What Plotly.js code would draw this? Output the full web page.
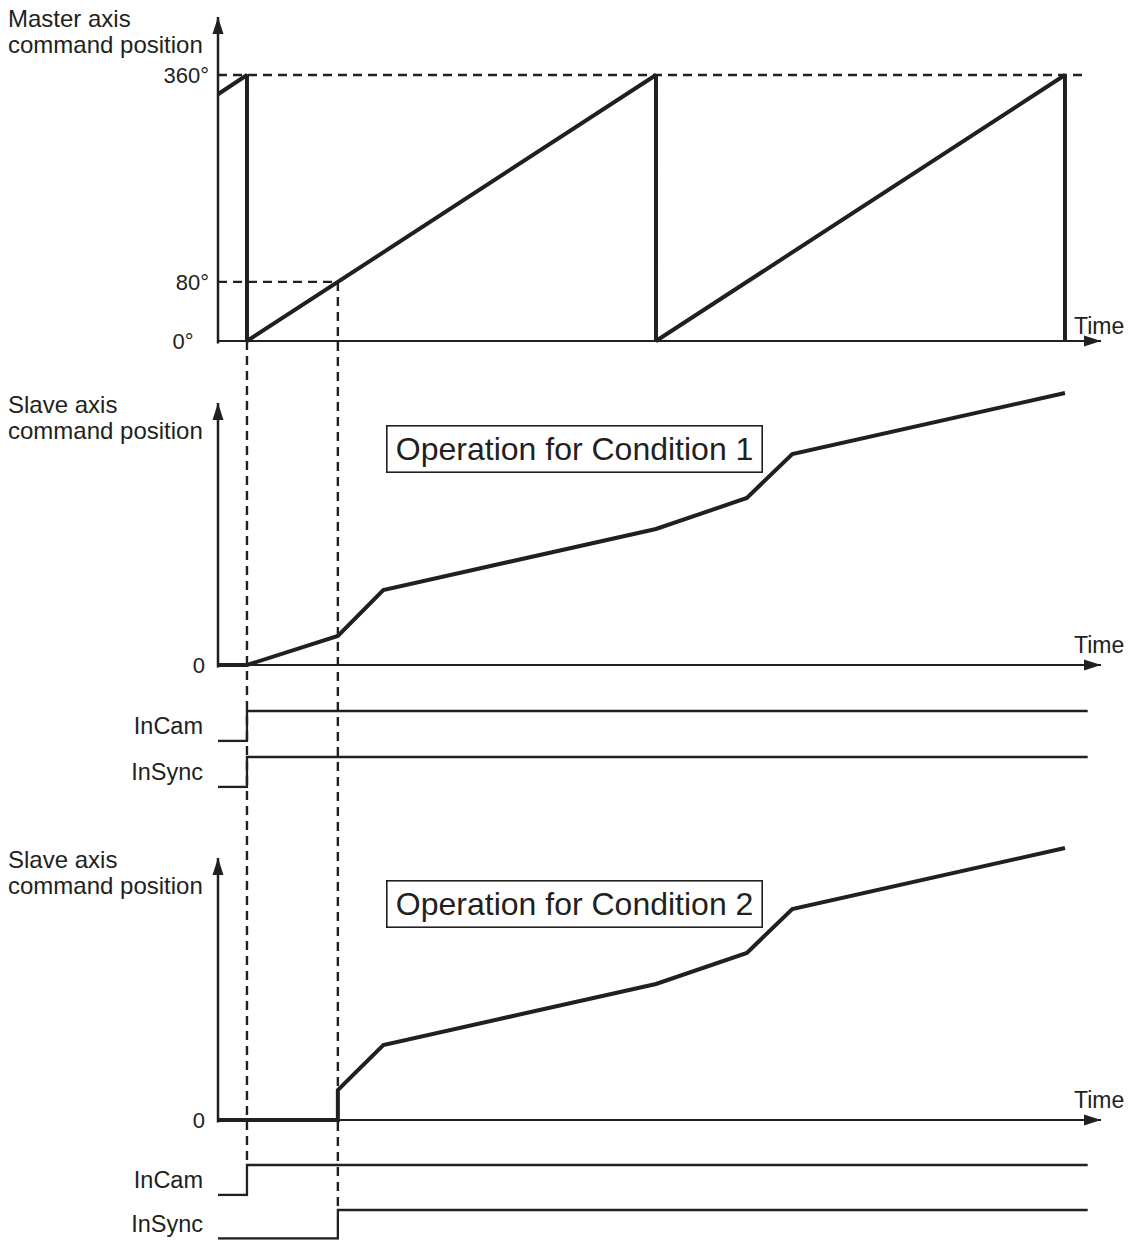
<!DOCTYPE html>
<html>
<head>
<meta charset="utf-8">
<script src="https://cdn.plot.ly/plotly-3.0.1.min.js"></script>
<style>html,body{margin:0;padding:0;background:#fff;}#chart{width:1135px;height:1240px;}</style>
</head>
<body>
<div id="chart"></div>
<script>
// ---------------- data ----------------
const masterTime = [-25.5, 0, 0, 360, 360, 720, 720];
const masterDeg  = [334, 360, 0, 360, 0, 360, 0];
const masterTickVals = [0, 80, 360];
const masterTickText = ['0°\u2002\u2009', '80°', '360°'];
const syncDeg = 80;          // master angle where sync occurs
const fullTurn = 360;
const startTime = 0;         // cam start
const syncTime = 80;         // time when master reaches syncDeg
const endTime = 740;         // end of signal / reference lines

const slave1Time = [-25.5, 0, 80, 120, 360, 440, 480, 720];
const slave1Pos  = [0, 0, 29, 75, 136, 167, 211, 272];
const slave2Time = [-25.5, 0, 80, 80, 120, 360, 440, 480, 720];
const slave2Pos  = [0, 0, 0, 30, 75, 136, 167, 211, 272];

const sigTime1 = [-25.5, 0, 0, 740];
const inCam1   = [0, 0, 1, 1];
const inSync1  = [0, 0, 1, 1];
const inCam2   = [0, 0, 1, 1];
const sigTime2 = [-25.5, 80, 80, 740];
const inSync2  = [0, 0, 1, 1];

const conditionLabels = ['Operation for Condition 1', 'Operation for Condition 2'];

// ---------------- layout helpers ----------------
const W = 1135, H = 1240;
const C = '#231f20';
const FONT = 'Liberation Sans, Arial, Helvetica, sans-serif';
const px = v => v / W;
const py = v => 1 - v / H;
const xOrigin = -25.5;

// x axis: px 218 -> 1101
const xLeftPx = 218, xRightPx = 1101, pxPerUnit = 409 / 360;
const xRange = [xOrigin, xOrigin + (xRightPx - xLeftPx) / pxPerUnit];

function posAxis(zeroPx, tipPx, tipVal, domTopPx, padPx) {
  const unitPx = (zeroPx - tipPx) / tipVal;
  const pad = padPx / unitPx;
  return {
    domain: [py(zeroPx + padPx), py(domTopPx)],
    range: [-pad, (zeroPx - domTopPx) / unitPx],
    _tip: tipVal,
    showline: false,
    zeroline: true, zerolinewidth: 2.5, zerolinecolor: C,
    showgrid: false, ticks: '', anchor: 'x',
    tickfont: {family: FONT, size: 22, color: C},
    ticklabelstandoff: 8,
    fixedrange: true
  };
}
function sigAxis(lowPx, highPx, label) {
  const unit = lowPx - highPx;
  return {
    domain: [py(lowPx + 0.04 * unit), py(highPx - 0.1 * unit)],
    range: [-0.04, 1.1],
    showline: false, zeroline: false, showgrid: false, ticks: '',
    tickvals: [0.5], ticktext: [label], anchor: 'x',
    tickfont: {family: FONT, size: 23.5, color: C},
    ticklabelstandoff: 14,
    fixedrange: true
  };
}

const yMaster = posAxis(341, 17, (341 - 17) * 360 / 266, 17, 2.5);
yMaster.tickvals = masterTickVals; yMaster.ticktext = masterTickText;
const ySlave1 = posAxis(665, 403, 262, 385, 2.5);
ySlave1.tickvals = [0]; ySlave1.ticktext = ['0']; ySlave1.ticklabelstandoff = 12;
const ySlave2 = posAxis(1120, 858, 262, 840, 2.5);
ySlave2.tickvals = [0]; ySlave2.ticktext = ['0']; ySlave2.ticklabelstandoff = 12;

const yInCam1 = sigAxis(741, 711, 'InCam');
const yInSync1 = sigAxis(787, 757, 'InSync');
const yInCam2 = sigAxis(1195, 1165, 'InCam');
const yInSync2 = sigAxis(1238.5, 1210, 'InSync');

function frac(ax, v) { return (v - ax.range[0]) / (ax.range[1] - ax.range[0]); }
function toPaper(ax, v) {
  return ax.domain[0] + frac(ax, v) * (ax.domain[1] - ax.domain[0]);
}

const xBase = {range: xRange, showline: false, zeroline: false, showgrid: false,
  showticklabels: false, ticks: '', fixedrange: true, domain: [px(xLeftPx), px(xRightPx)]};

// ---------------- traces ----------------
const thick = {color: C, width: 4};
const thin = {color: C, width: 2.3};
const dash = {color: C, width: 2.4, dash: '9px,6px'};
const traces = [
  {x: [xOrigin, endTime], y: [fullTurn, fullTurn], xaxis: 'x', yaxis: 'y', mode: 'lines', line: dash},
  {x: [xOrigin, syncTime], y: [syncDeg, syncDeg], xaxis: 'x', yaxis: 'y', mode: 'lines', line: dash},
  {x: masterTime, y: masterDeg, xaxis: 'x', yaxis: 'y', mode: 'lines', line: thick},
  {x: slave1Time, y: slave1Pos, xaxis: 'x2', yaxis: 'y2', mode: 'lines', line: thick},
  {x: slave2Time, y: slave2Pos, xaxis: 'x3', yaxis: 'y3', mode: 'lines', line: thick},
  {x: sigTime1, y: inCam1, xaxis: 'x', yaxis: 'y4', mode: 'lines', line: thin},
  {x: sigTime1, y: inSync1, xaxis: 'x', yaxis: 'y5', mode: 'lines', line: thin},
  {x: sigTime1, y: inCam2, xaxis: 'x', yaxis: 'y6', mode: 'lines', line: thin},
  {x: sigTime2, y: inSync2, xaxis: 'x', yaxis: 'y7', mode: 'lines', line: thin}
].map(t => Object.assign({hoverinfo: 'skip', showlegend: false}, t));

// ---------------- shapes ----------------
const vArrow = 'M-5.5,-17 L0,0 L5.5,-17 Z';
const hArrow = 'M-17,-5.5 L0,0 L-17,5.5 Z';
function arrow(yname, ax, xa, ya, path) {
  return {type: 'path', xref: 'x domain', yref: yname + ' domain', xsizemode: 'pixel', ysizemode: 'pixel',
    xanchor: xa, yanchor: ya, path: path, fillcolor: C, line: {width: 0}};
}
function vAxisLine(yname, ax) {
  return {type: 'line', xref: 'x domain', yref: yname + ' domain', x0: 0, x1: 0,
    y0: frac(ax, ax.range[0]), y1: frac(ax, ax._tip), line: {color: C, width: 2.5}};
}
const axes = [['y', yMaster], ['y2', ySlave1], ['y3', ySlave2]];
const shapes = [];
axes.forEach(([n, ax]) => {
  shapes.push(vAxisLine(n, ax));
  shapes.push(arrow(n, ax, 0, frac(ax, ax._tip), vArrow));
  shapes.push(arrow(n, ax, 1, frac(ax, 0), hArrow));
});
shapes.push(
  {type: 'line', xref: 'x', yref: 'paper', x0: startTime, x1: startTime,
   y0: toPaper(yMaster, 0), y1: toPaper(yInCam2, 1), line: dash, layer: 'below'},
  {type: 'line', xref: 'x', yref: 'paper', x0: syncTime, x1: syncTime,
   y0: toPaper(yMaster, syncDeg), y1: toPaper(yInSync2, 1), line: dash, layer: 'below'}
);

// ---------------- annotations ----------------
function txt(text, xp, yp, xanchor, size) {
  return {text: text, xref: 'paper', yref: 'paper', x: px(xp), y: py(yp), xanchor: xanchor,
    yanchor: 'middle', align: 'left', showarrow: false, font: {family: FONT, size: size, color: C}};
}
function box(text, yp) {
  return {text: text, xref: 'paper', yref: 'paper', x: px(574), y: py(yp),
   xanchor: 'center', yanchor: 'middle', showarrow: false, bordercolor: C, borderwidth: 1.6,
   width: 372, height: 43, borderpad: 1, bgcolor: '#fff', font: {family: FONT, size: 32, color: C}};
}
const annotations = [
  txt('Master axis', 6, 18, 'left', 24),
  txt('command position', 6, 44, 'left', 24),
  txt('Slave axis', 6, 404, 'left', 24),
  txt('command position', 6, 430, 'left', 24),
  txt('Slave axis', 6, 859, 'left', 24),
  txt('command position', 6, 885, 'left', 24),
  txt('Time', 1126, 326, 'right', 23),
  txt('Time', 1126, 645, 'right', 23),
  txt('Time', 1126, 1100, 'right', 23),
  box(conditionLabels[0], 448.5),
  box(conditionLabels[1], 903.5)
];

const layout = {
  width: W, height: H, margin: {l: 0, r: 0, t: 0, b: 0},
  paper_bgcolor: '#fff', plot_bgcolor: 'rgba(0,0,0,0)', showlegend: false,
  font: {family: FONT, color: C},
  xaxis: Object.assign({anchor: 'y'}, xBase),
  xaxis2: Object.assign({anchor: 'y2', matches: 'x'}, xBase),
  xaxis3: Object.assign({anchor: 'y3', matches: 'x'}, xBase),
  yaxis: yMaster, yaxis2: ySlave1, yaxis3: ySlave2,
  yaxis4: yInCam1, yaxis5: yInSync1, yaxis6: yInCam2, yaxis7: yInSync2,
  shapes: shapes, annotations: annotations
};
['yaxis', 'yaxis2', 'yaxis3'].forEach(k => { delete layout[k]._tip; });

Plotly.newPlot('chart', traces, layout, {staticPlot: true, displayModeBar: false});
</script>
</body>
</html>
